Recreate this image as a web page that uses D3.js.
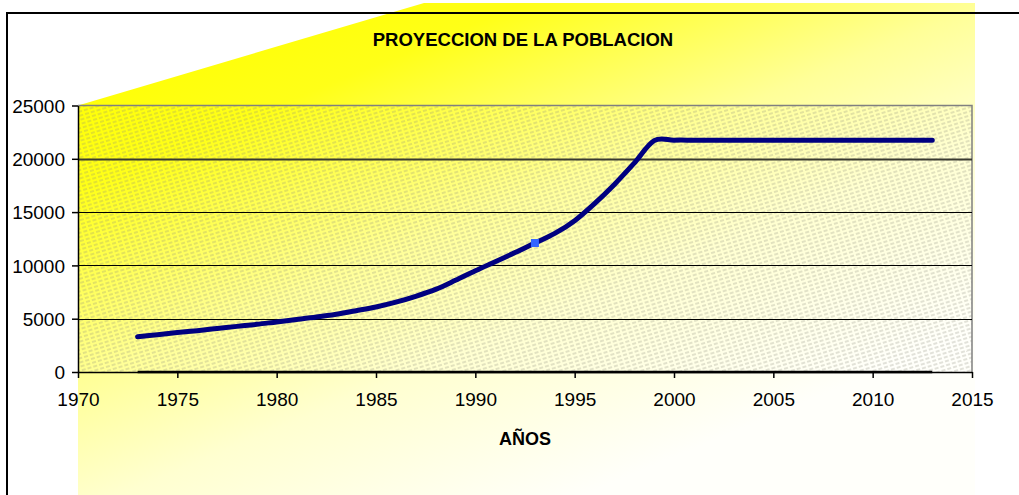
<!DOCTYPE html>
<html>
<head>
<meta charset="utf-8">
<script src="https://cdnjs.cloudflare.com/ajax/libs/d3/7.8.5/d3.min.js"></script>
<style>
  html, body { margin: 0; padding: 0; background: #fff; }
  svg text { font-family: "Liberation Sans", Arial, sans-serif; }
</style>
</head>
<body>
<svg id="chart" width="1019" height="495"></svg>
<script>
// chart data
const years = [1973, 1974, 1975, 1976, 1977, 1978, 1979, 1980, 1981, 1982,
  1983, 1984, 1985, 1986, 1987, 1988, 1989, 1990, 1991, 1992,
  1993, 1994, 1995, 1996, 1997, 1998, 1999, 2000, 2001, 2002,
  2003, 2004, 2005, 2006, 2007, 2008, 2009, 2010, 2011, 2012, 2013];
const poblacion = [3310, 3500, 3700, 3880, 4080, 4280, 4470, 4700, 4920, 5150,
  5420, 5750, 6100, 6550, 7100, 7750, 8600, 9500, 10350, 11200,
  12100, 13000, 14200, 15800, 17600, 19600, 21700, 21750, 21750, 21750,
  21750, 21750, 21750, 21750, 21750, 21750, 21750, 21750, 21750, 21750, 21750];
const tasa = [0, 0, 0, 0, 0, 0, 0, 0, 0, 0,
  0, 0, 0, 0, 0, 0, 0, 0, 0, 0,
  0, 0, 0, 0, 0, 0, 0, 0, 0, 0,
  0, 0, 0, 0, 0, 0, 0, 0, 0, 0, 0];
const markedYear = 1993;
const xTicks = [1970, 1975, 1980, 1985, 1990, 1995, 2000, 2005, 2010, 2015];
const yTicks = [0, 5000, 10000, 15000, 20000, 25000];
const title = "PROYECCION DE LA POBLACION";
const xTitle = "AÑOS";

const svg = d3.select("#chart");
const W = 1019, H = 495;
const plot = {left: 78, right: 972, top: 105.5, bottom: 372};

const x = d3.scaleLinear().domain([1970, 2015]).range([plot.left, plot.right]);
const y = d3.scaleLinear().domain([0, 25000]).range([plot.bottom, plot.top]);

const defs = svg.append("defs");

const grad = defs.append("linearGradient")
    .attr("id", "bgGrad")
    .attr("gradientUnits", "userSpaceOnUse")
    .attr("x1", 150).attr("y1", 30)
    .attr("x2", 380).attr("y2", 580);
grad.append("stop").attr("offset", 0).attr("stop-color", "#ffff00");
grad.append("stop").attr("offset", 0.2).attr("stop-color", "#ffff18");
grad.append("stop").attr("offset", 0.5).attr("stop-color", "#ffff98");
grad.append("stop").attr("offset", 0.7).attr("stop-color", "#ffffd0");
grad.append("stop").attr("offset", 1).attr("stop-color", "#fffffa");

// dashed diagonal hatch over the plot area
const hatch = defs.append("pattern")
    .attr("id", "hatch")
    .attr("patternUnits", "userSpaceOnUse")
    .attr("width", 6).attr("height", 4)
    .attr("patternTransform", "rotate(-17)");
hatch.append("rect")
    .attr("x", 0).attr("y", 1.5)
    .attr("width", 4).attr("height", 1)
    .attr("fill", "#8a8a7a")
    .attr("fill-opacity", 0.5);

svg.append("rect").attr("width", W).attr("height", H).attr("fill", "#fff");

// yellow backdrop shape
svg.append("path")
    .attr("d", `M${plot.left},${plot.top} L424,3 L975,3 L975,${H} L${plot.left},${H} Z`)
    .attr("fill", "url(#bgGrad)");

// chart frame
svg.append("path")
    .attr("d", `M7,${H + 2} L7,13 L${W + 2},13`)
    .attr("fill", "none")
    .attr("stroke", "#000")
    .attr("stroke-width", 2);

svg.append("text")
    .attr("x", 523).attr("y", 46)
    .attr("text-anchor", "middle")
    .attr("font-size", 18.5)
    .attr("font-weight", "bold")
    .text(title);

// plot area
svg.append("rect")
    .attr("x", plot.left).attr("y", plot.top)
    .attr("width", plot.right - plot.left)
    .attr("height", plot.bottom - plot.top)
    .attr("fill", "url(#hatch)");

svg.append("path")
    .attr("d", `M${plot.left},${plot.top} L${plot.right},${plot.top} L${plot.right},${plot.bottom}`)
    .attr("fill", "none")
    .attr("stroke", "#808080")
    .attr("stroke-width", 1.5);

// gridlines
svg.append("g")
    .selectAll("line")
    .data(yTicks.filter(d => d > 0 && d < 25000))
    .enter().append("line")
    .attr("x1", plot.left).attr("x2", plot.right)
    .attr("y1", d => Math.round(y(d)) + 0.5)
    .attr("y2", d => Math.round(y(d)) + 0.5)
    .attr("stroke", d => d === 20000 ? "#3a3a30" : "#000")
    .attr("stroke-width", d => d === 20000 ? 2 : 1);

const yAxis = svg.append("g")
    .attr("transform", `translate(${plot.left},0)`)
    .call(d3.axisLeft(y).tickValues(yTicks).tickFormat(d3.format("d"))
        .tickSizeInner(6).tickSizeOuter(0).tickPadding(7));

const xAxis = svg.append("g")
    .attr("transform", `translate(0,${plot.bottom})`)
    .call(d3.axisBottom(x).tickValues(xTicks).tickFormat(d3.format("d"))
        .tickSizeInner(6).tickSizeOuter(0).tickPadding(15));

[yAxis, xAxis].forEach(a => {
    a.select(".domain").attr("stroke", "#000").attr("stroke-width", 1.5);
    a.selectAll(".tick line").attr("stroke", "#000").attr("stroke-width", 1.5);
    a.selectAll(".tick text")
        .attr("fill", "#000")
        .attr("font-size", 19)
        .attr("font-family", "'Liberation Sans', Arial, sans-serif");
});
yAxis.selectAll(".tick text").attr("dy", "0.36em");

svg.append("text")
    .attr("x", (plot.left + plot.right) / 2).attr("y", 445)
    .attr("text-anchor", "middle")
    .attr("font-size", 18)
    .attr("font-weight", "bold")
    .text(xTitle);

// series
const line = d3.line()
    .x((d, i) => x(years[i]))
    .y(d => y(d))
    .curve(d3.curveCardinal.tension(0));

svg.append("path")
    .datum(tasa)
    .attr("d", line)
    .attr("fill", "none")
    .attr("stroke", "#000")
    .attr("stroke-width", 2.5);

svg.append("path")
    .datum(poblacion)
    .attr("d", line)
    .attr("fill", "none")
    .attr("stroke", "#000080")
    .attr("stroke-width", 5)
    .attr("stroke-linecap", "round")
    .attr("stroke-linejoin", "round");

const mi = years.indexOf(markedYear);
svg.append("rect")
    .attr("x", x(years[mi]) - 4)
    .attr("y", y(poblacion[mi]) - 4)
    .attr("width", 8).attr("height", 8)
    .attr("fill", "#3366ff");
</script>
</body>
</html>
